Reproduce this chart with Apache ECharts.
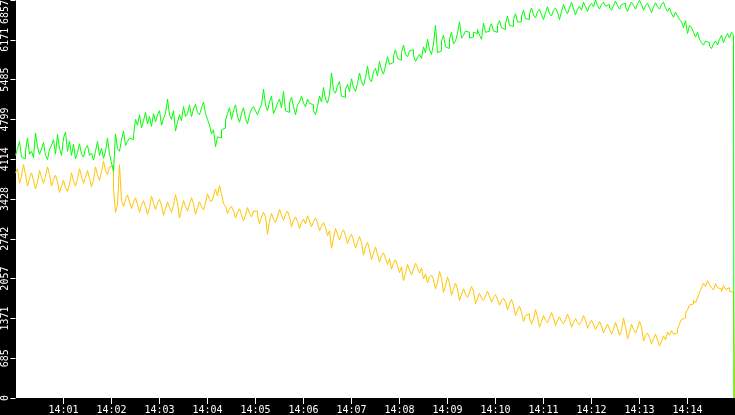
<!DOCTYPE html>
<html>
<head>
<meta charset="utf-8">
<script src="https://cdn.jsdelivr.net/npm/echarts@6/dist/echarts.min.js"></script>
<style>
html,body{margin:0;padding:0;background:#000;}
#chart{width:735px;height:415px;}
</style>
</head>
<body>
<div id="chart"></div>
<script>
// sample step in seconds from 14:00:00
var stepSec = 2.5;
var greenValues = [
4180,4300,4420,4150,4120,4260,4480,4200,4250,4140,4560,4330,4200,4290,4400,4180,4110,4280,4350,4450,
4200,4540,4300,4180,4480,4580,4250,4420,4180,4370,4120,4230,4380,4200,4150,4300,4350,4180,4220,4100,
4250,4420,4180,4300,4130,4250,4480,4200,4050,3900,4550,4300,4250,4450,4600,4350,4420,4480,4450,4520,
4800,4700,4880,4650,4780,4920,4720,4850,4680,4900,4760,4880,4950,4700,4820,4900,5150,4880,4800,4950,
4600,4750,4880,4780,5020,4850,4900,5050,4850,4980,5060,4920,4880,5000,5100,4900,4800,4700,4550,4620,
4330,4500,4480,4620,4650,4780,4900,5000,4800,4950,5050,4850,4750,4900,5000,4820,4720,4880,4980,5020,
4950,4880,4980,5050,5320,5050,4950,5100,5200,4900,4980,5080,5150,5000,5280,4950,4920,5080,5180,5020,
4880,5050,5100,5200,5080,5020,5150,5080,5050,4950,4880,5020,5200,5100,5350,5150,5080,5220,5600,5300,
5250,5380,5450,5200,5180,5320,5400,5280,5500,5350,5280,5420,5600,5450,5380,5520,5720,5500,5450,5620,
5680,5550,5800,5650,5580,5720,5880,5750,5780,5900,6000,5850,5820,5950,6080,5920,5880,5980,6000,5900,
5800,5870,5920,5850,6050,5950,6180,6000,5920,6100,6420,5950,5980,6150,6250,6050,6020,6180,6300,6100,
6150,6280,6480,6200,6250,6320,6300,6200,6220,6300,6280,6350,6250,6180,6460,6300,6320,6380,6450,6320,
6300,6420,6500,6380,6350,6450,6580,6420,6400,6520,6620,6480,6480,6580,6680,6540,6520,6620,6720,6600,
6550,6650,6700,6600,6520,6640,6740,6620,6580,6680,6720,6640,6520,6660,6780,6680,6620,6720,6820,6700,
6600,6700,6750,6680,6820,6740,6660,6760,6800,6740,6857,6760,6700,6780,6820,6750,6780,6720,6680,6760,
6840,6760,6700,6780,6800,6740,6660,6750,6820,6760,6700,6790,6850,6780,6680,6760,6800,6720,6640,6740,
6810,6740,6700,6780,6820,6720,6660,6720,6620,6560,6650,6580,6520,6480,6380,6500,6280,6420,6380,6300,
6220,6300,6180,6120,6080,6150,6120,6060,6020,6100,6150,6080,6180,6250,6120,6220,6280,6200,6300,6250
];
var orangeValues = [
3880,3950,3700,3820,4020,3850,3650,3780,3880,3750,3600,3720,3920,3800,3700,3820,3980,3850,3650,3760,
3840,3720,3540,3650,3750,3620,3560,3680,3880,3740,3650,3780,3950,3820,3700,3800,3920,3780,3640,3750,
3980,3850,3750,3900,4080,3920,3850,3980,4000,3600,3200,3320,4020,3400,3300,3420,3500,3380,3260,3380,
3450,3330,3200,3320,3400,3300,3160,3280,3480,3350,3250,3360,3420,3320,3150,3260,3380,3280,3200,3320,
3500,3360,3100,3250,3400,3300,3220,3340,3450,3350,3160,3280,3380,3300,3240,3360,3520,3420,3380,3480,
3600,3480,3660,3520,3350,3300,3180,3260,3300,3220,3100,3200,3260,3160,3050,3150,3280,3180,3120,3220,
3220,3140,3000,3120,3200,3120,2820,3050,3180,3080,3020,3120,3250,3150,3060,3160,3220,3120,2950,3060,
3120,3040,2920,3020,3080,3000,3140,3050,2950,3040,3100,3020,2880,2960,3020,2940,2800,2880,2580,2750,
2920,2820,2720,2830,2900,2800,2660,2760,2820,2720,2580,2680,2780,2680,2460,2600,2680,2560,2380,2500,
2600,2480,2340,2450,2500,2400,2300,2400,2220,2320,2380,2280,2160,2260,2020,2150,2300,2200,2120,2220,
2320,2240,2150,2240,2050,2140,1980,2080,2120,2040,1880,1990,2180,2060,1820,1930,2080,1980,1770,1880,
1980,1880,1680,1780,1880,1790,1730,1820,1920,1840,1620,1720,1800,1720,1680,1760,1840,1760,1650,1730,
1780,1700,1600,1680,1720,1650,1520,1620,1700,1600,1420,1520,1580,1480,1320,1420,1450,1380,1280,1360,
1520,1400,1220,1320,1420,1340,1300,1380,1470,1380,1250,1340,1400,1320,1280,1350,1440,1360,1220,1300,
1370,1300,1260,1330,1420,1340,1200,1280,1340,1270,1180,1250,1320,1240,1120,1200,1270,1190,1100,1180,
1300,1200,1080,1160,1380,1220,1020,1120,1270,1180,1120,1200,1320,1220,980,1080,1120,1040,930,1020,
1100,1000,900,980,1070,1000,1140,1080,1160,1100,1120,1180,1280,1350,1380,1460,1520,1600,1620,1680,
1640,1720,1820,1900,1980,1920,2020,1950,1900,1860,1970,1900,1880,1830,1940,1870,1900,1840,1820,1700
];
// final samples (seconds, value) where both feeds drop to zero
var greenEnd = [898, 0];
var orangeEnd = [899, 0];
var tickMinutes = [1,2,3,4,5,6,7,8,9,10,11,12,13,14];
var yMax = 6857;
var ySplits = 10;

function toPairs(vals, endPt) {
  var out = vals.map(function (v, i) { return [i * stepSec, v]; });
  out.push(endPt);
  return out;
}
var tickSecs = tickMinutes.map(function (m) { return m * 60; });
function pad(n) { return (n < 10 ? '0' : '') + n; }

var chart = echarts.init(document.getElementById('chart'), null, {renderer: 'canvas'});
chart.setOption({
  backgroundColor: '#000',
  animation: false,
  grid: {left: 15.5, right: -0.5, top: 0, bottom: 17, show: true, backgroundColor: '#fff', borderWidth: 0,
         outerBoundsMode: 'none', containLabel: false},
  xAxis: {
    type: 'value', min: 0, max: 900, interval: 60,
    axisLine: {show: true, lineStyle: {color: '#000', width: 1}},
    axisTick: {show: true, length: 6, lineStyle: {color: '#fff', width: 1, opacity: 1}, customValues: tickSecs},
    axisLabel: {
      color: '#fff', fontFamily: 'DejaVu Sans Mono', fontSize: 10, margin: 7,
      customValues: tickSecs,
      formatter: function (v) { return '14:' + pad(Math.round(v / 60)); }
    },
    splitLine: {show: false}
  },
  yAxis: {
    type: 'value', min: 0, max: yMax, interval: yMax / ySplits,
    axisLine: {show: true, lineStyle: {color: '#000', width: 1}},
    axisTick: {show: true, length: 5, lineStyle: {color: '#fff', width: 1, opacity: 1}},
    axisLabel: {
      rotate: 90, color: '#fff', fontFamily: 'DejaVu Sans Mono', fontSize: 10, margin: 5,
      formatter: function (v) {
        var s = String(Math.floor(v + 1e-6));
        return v > yMax - 1 ? '{top|' + s + '}' : s;
      },
      rich: {top: {color: '#fff', fontFamily: 'DejaVu Sans Mono', fontSize: 10, padding: [0, 24, 0, 0]}}
    },
    splitLine: {show: false}
  },
  series: [
    {type: 'line', step: 'end', showSymbol: false, symbol: 'none', data: toPairs(orangeValues, orangeEnd),
     lineStyle: {color: '#ffc400', width: 1}, itemStyle: {color: '#ffc400'}},
    {type: 'line', step: 'end', showSymbol: false, symbol: 'none', data: toPairs(greenValues, greenEnd),
     lineStyle: {color: '#00ff00', width: 1}, itemStyle: {color: '#00ff00'}}
  ]
});
</script>
</body>
</html>
